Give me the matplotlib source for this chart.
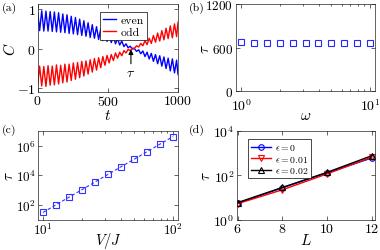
import matplotlib
matplotlib.use('Agg')
import matplotlib.pyplot as plt

plt.rcParams['font.family'] = 'cmr10'
plt.rcParams['mathtext.fontset'] = 'cm'
plt.rcParams['axes.unicode_minus'] = False
plt.rcParams['axes.formatter.use_mathtext'] = True
plt.rcParams['font.size'] = 10

# (a) correlation vs time, read at peaks/troughs of the oscillation
t = [0, 15, 30, 45, 60, 75, 90, 105, 120, 135, 150, 165, 180, 195, 210, 225,
     240, 255, 270, 285, 300, 315, 330, 345, 360, 375, 390, 405, 420, 435, 450,
     465, 480, 495, 510, 525, 540, 555, 570, 585, 600, 615, 630, 645, 660, 675,
     690, 705, 720, 735, 750, 765, 780, 795, 810, 825, 840, 855, 870, 885, 900,
     915, 930, 945, 960, 975, 990, 1000]
c_even = [0.98, 0.45, 0.95, 0.44, 0.94, 0.44, 0.93, 0.43, 0.92, 0.42, 0.90,
          0.41, 0.87, 0.40, 0.85, 0.38, 0.81, 0.37, 0.78, 0.35, 0.74, 0.33,
          0.70, 0.31, 0.65, 0.28, 0.60, 0.26, 0.55, 0.23, 0.49, 0.20, 0.43,
          0.18, 0.37, 0.15, 0.31, 0.12, 0.25, 0.09, 0.19, 0.05, 0.12, 0.02,
          0.06, -0.01, 0.00, -0.07, -0.03, -0.13, -0.06, -0.20, -0.09, -0.26,
          -0.12, -0.32, -0.15, -0.38, -0.18, -0.44, -0.21, -0.50, -0.24,
          -0.56, -0.26, -0.61, -0.29, -0.65]
c_odd = [-0.96, -0.44, -0.94, -0.45, -0.95, -0.43, -0.92, -0.44, -0.91, -0.41,
         -0.89, -0.42, -0.86, -0.39, -0.84, -0.39, -0.80, -0.36, -0.77, -0.35,
         -0.73, -0.32, -0.69, -0.31, -0.64, -0.28, -0.59, -0.25, -0.54, -0.23,
         -0.48, -0.20, -0.42, -0.17, -0.36, -0.15, -0.30, -0.11, -0.24, -0.09,
         -0.18, -0.05, -0.11, -0.02, -0.05, 0.01, 0.01, 0.07, 0.04, 0.13, 0.07,
         0.20, 0.10, 0.26, 0.13, 0.33, 0.16, 0.39, 0.19, 0.45, 0.22, 0.51,
         0.25, 0.57, 0.27, 0.62, 0.30, 0.66]
t_cross = 665

# (b) tau vs driving frequency
omega = [1.0, 1.26, 1.58, 2.0, 2.51, 3.16, 3.98, 5.01, 6.31, 7.94, 10.0]
tau_omega = [675, 665, 662, 665, 668, 662, 660, 663, 660, 662, 660]

# (c) tau vs V/J
vj = [10.0, 12.6, 15.8, 20.0, 25.1, 31.6, 39.8, 50.1, 63.1, 79.4, 100.0]
tau_vj = [30, 100, 320, 1070, 3500, 1.15e4, 3.8e4, 1.2e5, 4.0e5, 1.3e6, 4.2e6]

# (d) tau vs system size
L = [6, 8, 10, 12]
tau_eps0 = [5.5, 27, 130, 600]
tau_eps1 = [5.2, 22, 115, 650]
tau_eps2 = [5.8, 28, 135, 760]

fig = plt.figure(figsize=(3.8, 2.51), dpi=100)
spine_col = (0.15, 0.15, 0.15)


def style(ax, ls=10):
    ax.tick_params(which='both', direction='in', top=True, right=True,
                   colors=spine_col, labelcolor='k', width=0.5)
    ax.tick_params(which='major', length=3, labelsize=ls, pad=1.5)
    ax.tick_params(which='minor', length=1.5)
    for s in ax.spines.values():
        s.set_color(spine_col)
        s.set_linewidth(0.5)


# panel (a)
ax = fig.add_axes([0.0987, 0.6295, 0.3697, 0.3506])
ax.plot(t, c_even, color='b', lw=1.0, label='even')
ax.plot(t, c_odd, color='r', lw=1.0, label='odd')
ax.set_xlim(0, 1000)
ax.set_ylim(-1.09, 1.12)
ax.set_xticks([0, 500, 1000])
ax.set_yticks([-1, 0, 1])
ax.set_xlabel(r'$t$', fontsize=11, labelpad=0)
ax.set_ylabel(r'$C$', fontsize=11, labelpad=-1)
ax.annotate('', xy=(t_cross, -0.02), xytext=(t_cross, -0.38),
            arrowprops=dict(arrowstyle='-|>', color='k', lw=0.8,
                            mutation_scale=7, shrinkA=0, shrinkB=0))
ax.text(t_cross, -0.62, r'$\tau$', ha='center', va='center', fontsize=10)
leg = ax.legend(loc='upper right', fontsize=8.5, fancybox=False, framealpha=1,
                edgecolor='k', handlelength=1.1, borderpad=0.25,
                labelspacing=0.15, handletextpad=0.4,
                bbox_to_anchor=(0.82, 0.98))
leg.get_frame().set_linewidth(0.5)
style(ax)
fig.text(0.004, 0.965, '(a)', fontsize=8.5, va='center')

# panel (b)
ax = fig.add_axes([0.6211, 0.6315, 0.3658, 0.3486])
ax.semilogx(omega, tau_omega, 's', color=(0.15, 0.15, 1.0), ms=4,
            mfc='none', mew=0.8)
ax.set_xlim(0.915, 10.9)
ax.set_ylim(0, 1200)
ax.set_yticks([0, 600, 1200])
ax.set_xlabel(r'$\omega$', fontsize=11, labelpad=-3)
ax.set_ylabel(r'$\tau$', fontsize=11, labelpad=-5)
style(ax)
ax.tick_params(axis='y', labelsize=9.5, pad=2)
ax.tick_params(axis='x', pad=4)
fig.text(0.496, 0.965, '(b)', fontsize=8.5, va='center')

# panel (c)
ax = fig.add_axes([0.1, 0.1215, 0.3684, 0.3526])
ax.loglog(vj, tau_vj, 's--', color=(0.2, 0.2, 1.0), ms=4, mfc='none',
          mew=0.8, lw=0.8, dashes=(3, 2))
ax.set_xlim(9.15, 109)
ax.set_ylim(10, 1e7)
ax.set_yticks([1e2, 1e4, 1e6])
ax.set_xlabel(r'$V/J$', fontsize=10.5, labelpad=-5)
ax.set_ylabel(r'$\tau$', fontsize=11, labelpad=0)
style(ax, 9.5)
fig.text(0.004, 0.48, '(c)', fontsize=8.5, va='center')

# panel (d)
ax = fig.add_axes([0.6224, 0.1215, 0.3645, 0.3526])
ax.semilogy(L, tau_eps0, 'o-', color='b', ms=4, mfc='none', mew=0.8, lw=1.0,
            label=r'$\epsilon=0$')
ax.semilogy(L, tau_eps1, 'v-', color='r', ms=4, mfc='none', mew=0.8, lw=1.0,
            label=r'$\epsilon=0.01$')
ax.semilogy(L, tau_eps2, '^-', color='k', ms=4, mfc='none', mew=0.8, lw=1.0,
            label=r'$\epsilon=0.02$')
ax.set_xlim(5.95, 12.15)
ax.set_ylim(1, 1e4)
ax.set_xticks([6, 8, 10, 12])
ax.set_yticks([1, 1e2, 1e4])
ax.set_xlabel(r'$L$', fontsize=11, labelpad=-2)
ax.set_ylabel(r'$\tau$', fontsize=11, labelpad=0)
leg = ax.legend(loc='upper left', fontsize=7, fancybox=False, framealpha=1,
                edgecolor='k', handlelength=2.0, borderpad=0.3,
                labelspacing=0.15, handletextpad=0.4,
                bbox_to_anchor=(0.05, 0.96))
leg.get_frame().set_linewidth(0.5)
style(ax)
fig.text(0.496, 0.48, '(d)', fontsize=8.5, va='center')

fig.savefig('out.png', dpi=100)
